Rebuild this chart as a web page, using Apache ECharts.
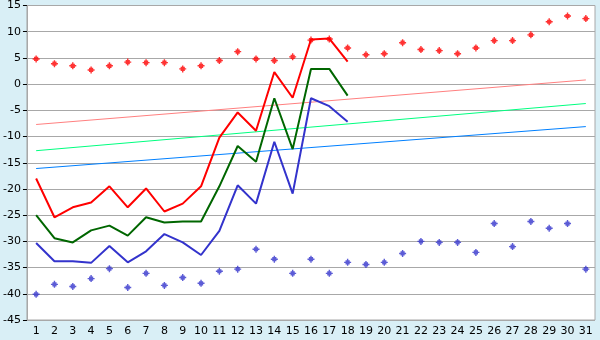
<!DOCTYPE html>
<html><head><meta charset="utf-8">
<script src="https://cdn.jsdelivr.net/npm/echarts@6/dist/echarts.min.js"></script>
<style>html,body{margin:0;padding:0;background:#d9eff6}#c{width:600px;height:340px}</style>
</head><body><div id="c"></div>
<script>
var categories = ['1','2','3','4','5','6','7','8','9','10','11','12','13','14','15','16','17','18','19','20','21','22','23','24','25','26','27','28','29','30','31'];
var redLine = [-18.0,-25.4,-23.5,-22.6,-19.5,-23.5,-19.9,-24.3,-22.8,-19.5,-10.2,-5.4,-8.9,2.3,-2.6,8.5,8.7,4.3];
var greenLine = [-25.0,-29.4,-30.2,-27.9,-27.0,-28.9,-25.4,-26.4,-26.2,-26.2,-19.5,-11.8,-14.8,-2.7,-12.4,2.9,2.9,-2.2];
var blueLine = [-30.3,-33.8,-33.8,-34.1,-30.9,-34.0,-31.9,-28.6,-30.2,-32.6,-28.0,-19.3,-22.8,-11.0,-20.9,-2.7,-4.2,-7.2];
var redPoints = [4.8,3.9,3.5,2.7,3.5,4.2,4.1,4.1,2.9,3.5,4.5,6.2,4.8,4.5,5.2,8.4,8.6,6.9,5.6,5.8,7.9,6.6,6.4,5.8,6.9,8.3,8.3,9.4,11.9,13.0,12.5];
var bluePoints = [-40.1,-38.2,-38.6,-37.1,-35.2,-38.8,-36.1,-38.4,-36.9,-38.0,-35.7,-35.3,-31.5,-33.4,-36.1,-33.4,-36.1,-34.0,-34.4,-34.0,-32.3,-30.0,-30.2,-30.2,-32.1,-26.6,-31.0,-26.2,-27.5,-26.6,-35.3];
var trendRed = [-7.7, 0.8];
var trendGreen = [-12.7, -3.7];
var trendBlue = [-16.1, -8.1];
var yTicks = {min: -45, max: 15, interval: 5};

var plus = 'path://M2,0 L3,0 L3,1 L4,1 L4,2 L5,2 L5,3 L4,3 L4,4 L3,4 L3,5 L2,5 L2,4 L1,4 L1,3 L0,3 L0,2 L1,2 L1,1 L2,1 Z';
function trend(arr, color) {
  return {type: 'line', data: [[categories[0], arr[0]], [categories[categories.length-1], arr[1]]],
    symbol: 'none', lineStyle: {color: color, width: 1}, silent: true, animation: false, z: 2};
}
function line(arr, color) {
  return {type: 'line', data: arr, symbol: 'none', lineStyle: {color: color, width: 2}, animation: false, z: 3};
}
function pts(arr, color) {
  return {type: 'scatter', data: arr, symbol: plus, symbolSize: 7, itemStyle: {color: color}, animation: false, z: 4};
}
var chart = echarts.init(document.getElementById('c'), null, {renderer: 'canvas'});
chart.setOption({
  backgroundColor: '#d9eff6',
  animation: false,
  grid: {left: 26, right: 5, top: 5, bottom: 20, show: true, backgroundColor: '#ffffff', borderColor: '#a8a8a8', borderWidth: 1},
  xAxis: {type: 'category', data: categories, boundaryGap: true,
    axisLine: {lineStyle: {color: '#a8a8a8'}},
    axisTick: {alignWithLabel: true, length: 5, lineStyle: {color: '#000'}},
    axisLabel: {color: '#000', fontFamily: 'DejaVu Sans', fontSize: 11, margin: 6, interval: 0},
    splitLine: {show: false}},
  yAxis: {type: 'value', min: yTicks.min, max: yTicks.max, interval: yTicks.interval,
    axisLine: {show: true, lineStyle: {color: '#a8a8a8'}},
    axisTick: {show: true, length: 4, lineStyle: {color: '#000'}},
    axisLabel: {color: '#000', fontFamily: 'DejaVu Sans', fontSize: 11, margin: 6},
    splitLine: {lineStyle: {color: '#a8a8a8', width: 1}}},
  series: [
    trend(trendRed, '#ff8080'),
    trend(trendGreen, '#00ff80'),
    trend(trendBlue, '#0080ff'),
    line(redLine, '#ff0000'),
    line(greenLine, '#006600'),
    line(blueLine, '#3333cc'),
    pts(redPoints, '#ff0000'),
    pts(bluePoints, '#3333cc')
  ]
});
</script></body></html>
